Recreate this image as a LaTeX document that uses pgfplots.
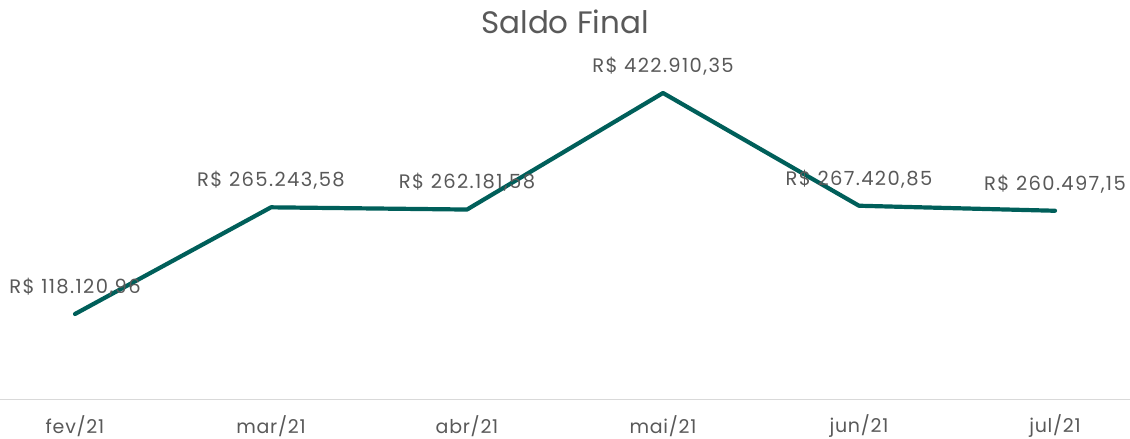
\documentclass[border=0pt]{standalone}
\usepackage{fontspec}
\setmainfont{Poppins}[Numbers=Monospaced]
\newfontfamily\labfont{Poppins}[Numbers=Monospaced, LetterSpace=7]
\newfontfamily\tickfont{Poppins}[Numbers=Monospaced, LetterSpace=4]
\usepackage{pgfplots}
\pgfplotsset{compat=1.18}
\definecolor{linec}{HTML}{005F5A}
\definecolor{txt}{HTML}{595959}
\definecolor{axc}{HTML}{D9D9D9}
\begin{document}
\begin{tikzpicture}
\begin{axis}[
  scale only axis,
  width=1130pt, height=360pt,
  xmin=-0.3827, xmax=5.3827,
  ymin=0, ymax=496490,
  axis x line=bottom,
  axis y line=none,
  axis line style={draw=axc, line width=1.3pt, -},
  xtick={0,1,2,3,4,5},
  xticklabels={fev/21,mar/21,abr/21,mai/21,jun/21,jul/21},
  major tick length=0pt,
  xticklabel style={anchor=center, yshift=-26.5pt, font=\tickfont\fontsize{19}{22}\selectfont, text=txt},
  clip=false,
]
\coordinate (bl) at (rel axis cs:0,0);
\coordinate (tr) at (rel axis cs:1,1);
\node[font=\fontsize{31}{36}\selectfont, text=txt] at (rel axis cs:0.5,1) [yshift=17.6pt] {Saldo Final};
\addplot[draw=none, point meta=explicit symbolic,
  nodes near coords,
  nodes near coords style={anchor=center, yshift=27pt, font=\labfont\fontsize{19.5}{22}\selectfont, text=txt}]
coordinates {
 (0,118120.96) [R\$ 118.120,96]
 (1,265243.58) [R\$ 265.243,58]
 (2,262181.58) [R\$ 262.181,58]
 (3,422910.35) [R\$ 422.910,35]
 (4,267420.85) [R\$ 267.420,85]
 (5,260497.15) [R\$ 260.497,15]
};
\addplot[color=linec, line width=4.2pt, line join=round, line cap=round, mark=none]
coordinates {
 (0,118120.96)
 (1,265243.58)
 (2,262181.58)
 (3,422910.35)
 (4,267420.85)
 (5,260497.15)
};
\end{axis}
\pgfresetboundingbox
\path ([yshift=-39.35pt]bl) rectangle ([yshift=39.65pt]tr);
\end{tikzpicture}
\end{document}
